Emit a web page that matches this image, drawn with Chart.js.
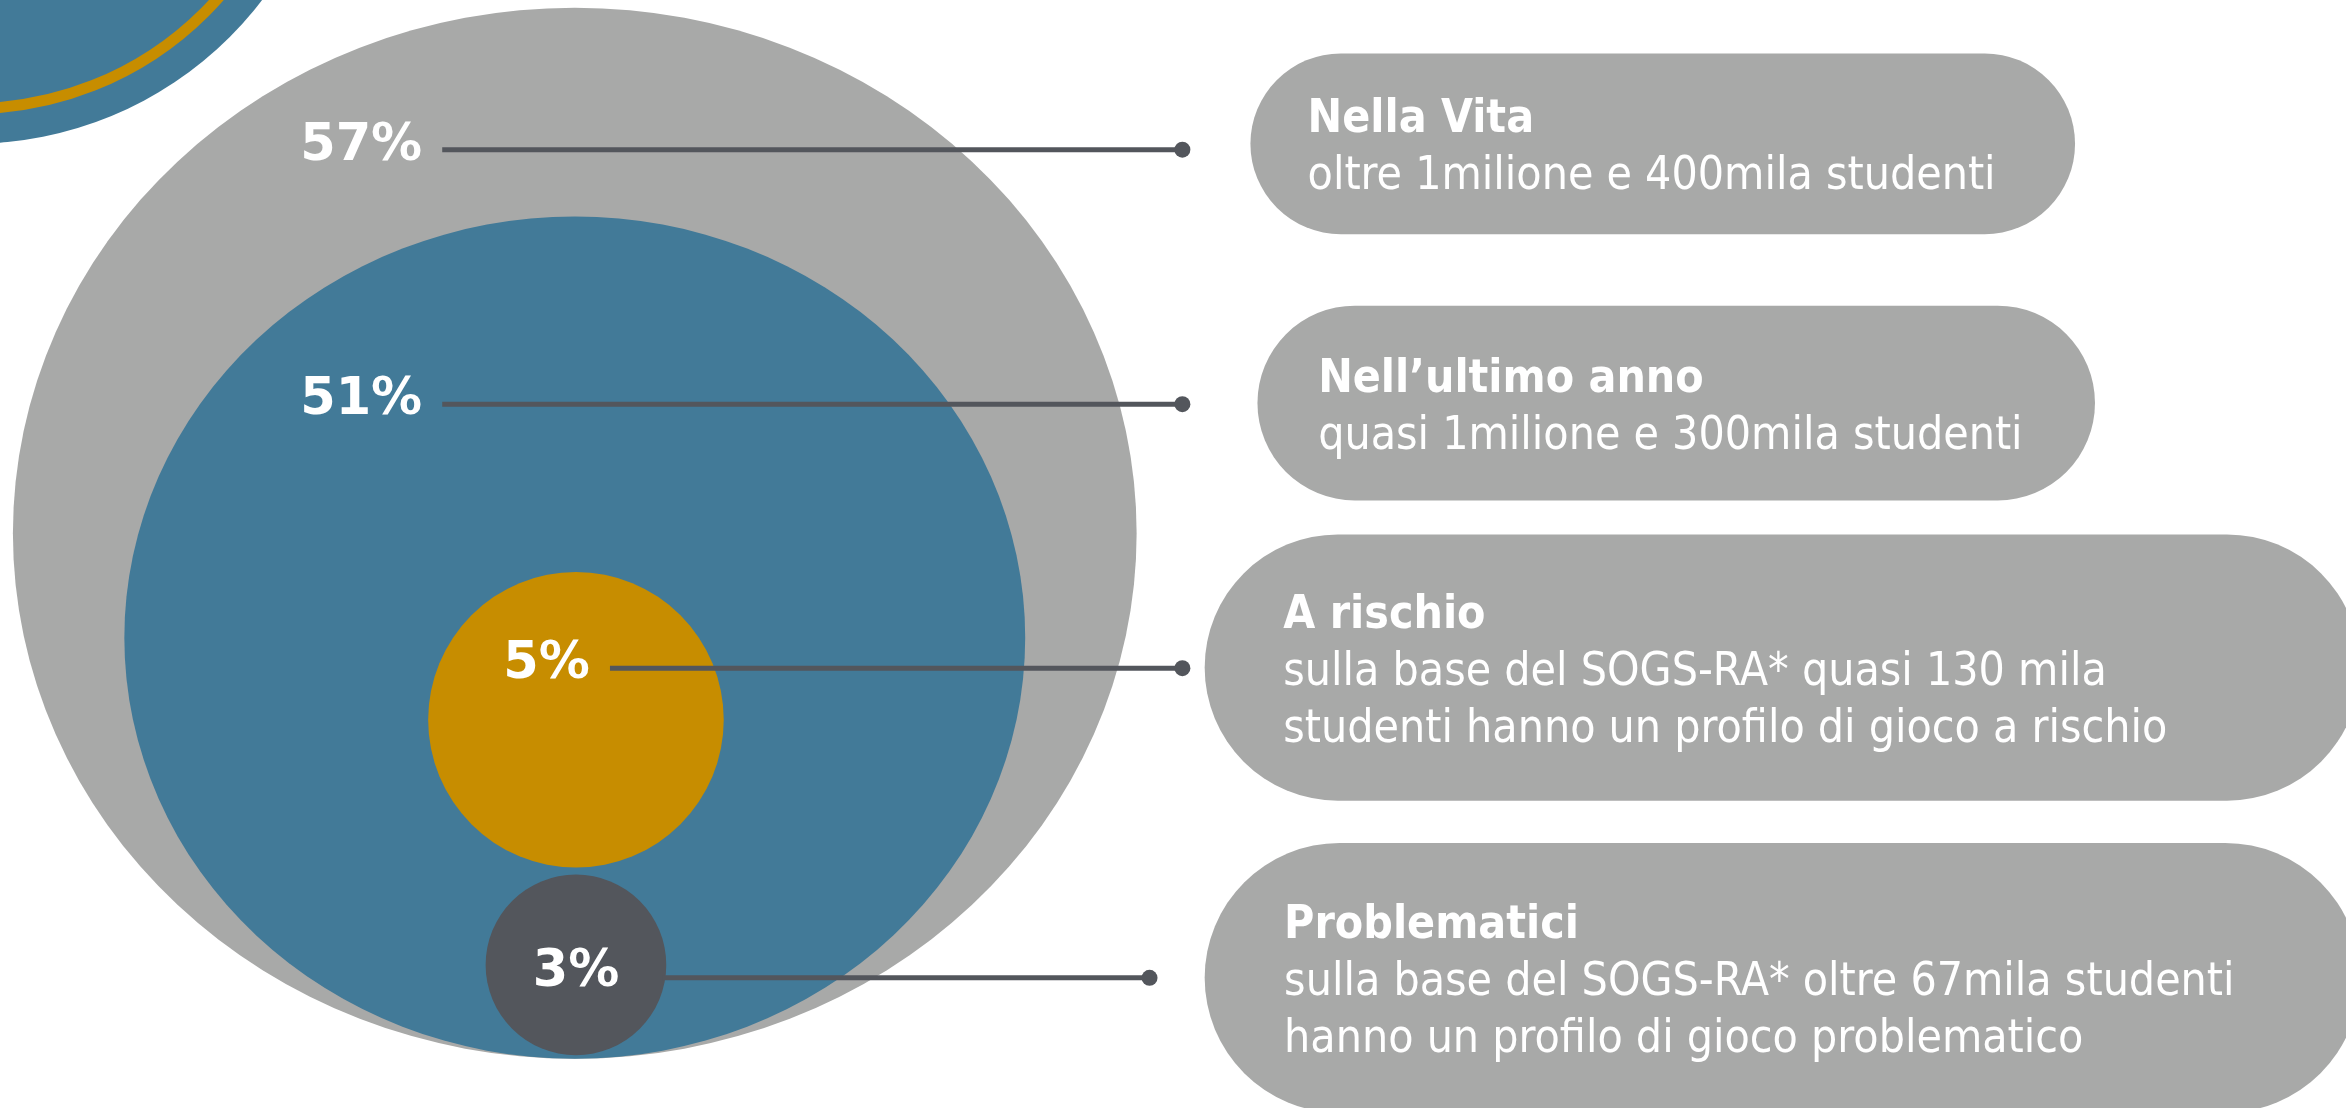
<!DOCTYPE html>
<html lang="it">
<head>
<meta charset="UTF-8">
<title>Studenti e gioco d'azzardo</title>
<style>
  body { margin: 0; background: #fff; overflow: hidden; }
  .chartBox { width: 2346px; height: 1108px; }
</style>
</head>
<body>
<div class="chartBox"><canvas id="myChart"></canvas></div>
<script src="https://cdn.jsdelivr.net/npm/chart.js"></script>
<script>
// quote di studenti per gruppo
const percentages = [57, 51, 5, 3];
const groupTitles = ['Nella Vita', 'Nell\u2019ultimo anno', 'A rischio', 'Problematici'];
const groupNotes = [
  ['oltre 1milione e 400mila studenti'],
  ['quasi 1milione e 300mila studenti'],
  ['sulla base del SOGS-RA* quasi 130 mila', 'studenti hanno un profilo di gioco a rischio'],
  ['sulla base del SOGS-RA* oltre 67mila studenti', 'hanno un profilo di gioco problematico']
];

// bolle, in unita' degli assi
const bubbleX = [49.0, 49.0, 49.1, 49.1];
const bubbleY = [49.0, 40.1, 33.1, 12.2];
const bubbleRX = [47.9, 38.4, 12.6, 7.7];
const bubbleRY = [44.8, 35.9, 12.6, 7.7];

// linee di richiamo
const leaderY = [81.7, 60.0, 37.5, 11.1];
const leaderFrom = [37.7, 37.7, 52.0, 56.5];
const leaderTo = [100.8, 100.8, 100.8, 98.0];

// riquadri delle descrizioni
const boxLeft = [106.6, 107.2, 102.7, 102.7];
const boxRight = [176.9, 178.6, 201.2, 201.2];
const boxTop = [89.9, 68.4, 48.9, 22.6];
const boxBottom = [74.5, 51.8, 26.2, -0.4];

// bolla tagliata in alto a sinistra (resto di un altro grafico)
const cornerX = -2.4, cornerY = 113.3, cornerR = 31.1, cornerRing = 28.1;

const bubbleColors = ['#a8a9a8', '#427a98', '#c78d00', '#53565c'];
const lineColor = '#53565c';
const boxColor = '#a8a9a8';

const ellipse = (ctx, x, y, cx, cy, rx, ry) => {
  const px = x.getPixelForValue(cx), py = y.getPixelForValue(cy);
  const rxp = x.getPixelForValue(cx + rx) - px;
  const ryp = py - y.getPixelForValue(cy + ry);
  ctx.beginPath();
  ctx.ellipse(px, py, rxp, ryp, 0, 0, Math.PI * 2);
};

const drawingPlugin = {
  id: 'bubblesAndBoxes',
  beforeDatasetsDraw(chart) {
    const {ctx, scales: {x, y}} = chart;
    ctx.save();

    ellipse(ctx, x, y, cornerX, cornerY, cornerR, cornerR);
    ctx.fillStyle = '#427a98';
    ctx.fill();
    ellipse(ctx, x, y, cornerX, cornerY, cornerRing, cornerRing);
    ctx.strokeStyle = '#c78d00';
    ctx.lineWidth = 11;
    ctx.stroke();

    for (let i = 0; i < bubbleX.length; i++) {
      ellipse(ctx, x, y, bubbleX[i], bubbleY[i], bubbleRX[i], bubbleRY[i]);
      ctx.fillStyle = bubbleColors[i];
      ctx.fill();
    }

    for (let i = 0; i < boxLeft.length; i++) {
      const l = x.getPixelForValue(boxLeft[i]), r = x.getPixelForValue(boxRight[i]);
      const t = y.getPixelForValue(boxTop[i]), b = y.getPixelForValue(boxBottom[i]);
      const h = b - t;
      ctx.beginPath();
      ctx.roundRect(l, t, r - l, h, h / 2);
      ctx.fillStyle = boxColor;
      ctx.fill();
    }
    ctx.restore();
  },
  afterDatasetsDraw(chart) {
    const {ctx, scales: {x, y}} = chart;
    ctx.save();
    ctx.fillStyle = '#ffffff';

    // percentuali
    ctx.font = 'bold 51px "DejaVu Sans"';
    ctx.textBaseline = 'alphabetic';
    percentages.forEach((p, i) => {
      const ly = y.getPixelForValue(leaderY[i]);
      if (i === percentages.length - 1) {
        ctx.textAlign = 'center';
        ctx.fillText(p + '%', x.getPixelForValue(bubbleX[i]), ly + 8);
      } else {
        ctx.textAlign = 'right';
        ctx.fillText(p + '%', x.getPixelForValue(leaderFrom[i]) - 20, ly + 10);
      }
    });

    // testi nei riquadri
    ctx.textAlign = 'left';
    groupTitles.forEach((title, i) => {
      const l = x.getPixelForValue(boxLeft[i]);
      const t = y.getPixelForValue(boxTop[i]), b = y.getPixelForValue(boxBottom[i]);
      const h = b - t, mid = (t + b) / 2;
      const lines = [title].concat(groupNotes[i]);
      const tx = l + 0.25 * h + 12;
      lines.forEach((txt, k) => {
        ctx.font = (k === 0 ? 'bold ' : '') + '46px "DejaVu Sans Condensed", "Liberation Sans"';
        ctx.fillText(txt, tx, mid + 17 + (k - (lines.length - 1) / 2) * 57);
      });
    });
    ctx.restore();
  }
};

const ctx = document.getElementById('myChart').getContext('2d');
const myChart = new Chart(ctx, {
  type: 'scatter',
  data: {
    datasets: percentages.map((p, i) => ({
      label: p + '%',
      data: [{x: leaderFrom[i], y: leaderY[i]}, {x: leaderTo[i], y: leaderY[i]}],
      showLine: true,
      borderColor: lineColor,
      borderWidth: 5,
      pointRadius: [0, 8],
      pointBackgroundColor: lineColor,
      pointBorderWidth: 0,
      clip: false
    }))
  },
  options: {
    responsive: true,
    maintainAspectRatio: false,
    animation: false,
    events: [],
    layout: { padding: 0, autoPadding: false },
    scales: {
      x: { type: 'linear', min: 0, max: 200, display: false },
      y: { type: 'linear', min: 0, max: 94.46, display: false }
    },
    plugins: {
      legend: { display: false },
      tooltip: { enabled: false }
    }
  },
  plugins: [drawingPlugin]
});
</script>
</body>
</html>
